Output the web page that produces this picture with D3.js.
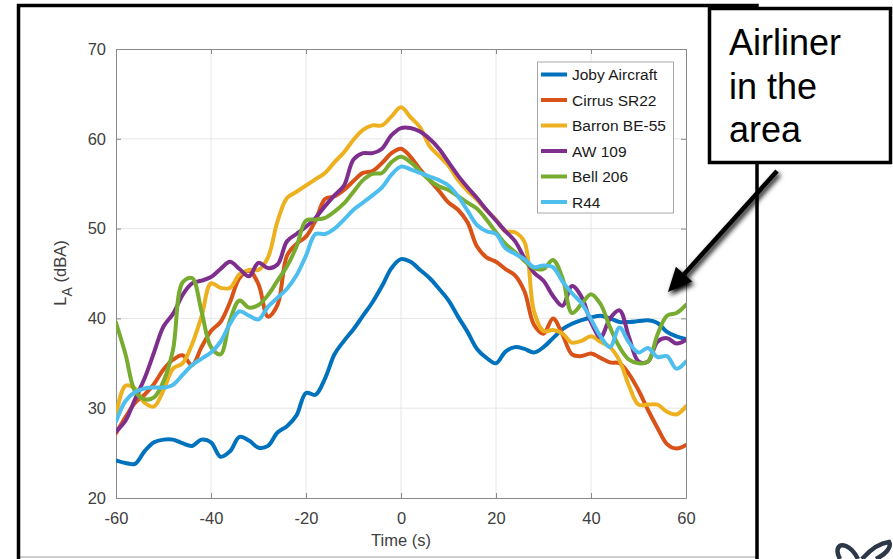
<!DOCTYPE html>
<html>
<head>
<meta charset="utf-8">
<script src="https://cdn.jsdelivr.net/npm/d3@7"></script>
<style>
  body { margin: 0; background: #fff; }
  svg { display: block; font-family: "Liberation Sans", Arial, sans-serif; }
</style>
</head>
<body>
<svg id="chart" width="893" height="559"></svg>
<script>
// time axis, one sample every 2 s
let times = d3.range(-60, 61, 2);

// levels (dBA)
let joby = [24.2,23.9,23.8,25.2,26.2,26.5,26.5,26.1,25.8,26.5,26.2,24.6,25.2,26.8,26.4,25.6,25.8,27.3,28.0,29.2,31.7,
  31.5,33.3,36.0,37.5,38.8,40.3,41.8,43.6,45.6,46.6,46.3,45.4,44.5,43.3,42.0,40.2,38.5,36.6,35.6,35.0,
  36.3,36.8,36.6,36.2,36.8,37.8,38.8,39.4,39.8,40.1,40.3,40.0,39.6,39.6,39.7,39.8,39.5,38.5,38.0,37.7];
let cirrus = [27.2,29.0,30.6,31.5,32.7,34.3,35.4,35.9,34.8,36.8,38.6,39.6,41.8,44.5,45.3,43.8,40.2,41.5,47.0,48.3,49.1,
  50.9,53.3,53.6,54.3,55.3,56.2,56.4,57.3,58.4,58.9,58.0,56.6,55.4,54.2,52.9,52.1,50.7,48.0,46.8,46.3,
  45.5,44.8,43.0,39.3,38.3,40.0,38.2,36.0,35.8,36.1,35.6,35.1,35.0,33.8,32.0,29.8,27.8,26.0,25.5,25.9];
let barron = [29.1,32.5,32.2,30.6,30.2,32.0,34.4,35.0,37.1,40.2,43.9,43.4,43.4,44.9,45.4,45.4,46.8,50.8,53.4,54.1,54.8,
  55.5,56.2,57.4,58.5,59.9,61.0,61.5,61.5,62.5,63.5,62.4,61.3,59.2,58.1,57.0,55.4,54.2,53.2,52.0,51.0,
  49.7,49.6,48.5,40.8,38.6,38.7,38.3,37.3,37.5,38.0,37.4,36.8,35.3,32.5,30.4,30.4,30.4,29.6,29.3,30.2];
let aw109 = [27.4,28.6,31.0,33.3,36.2,39.1,40.5,42.6,43.9,44.2,44.6,45.5,46.3,45.5,44.7,46.2,45.6,46.0,48.6,49.4,50.2,
  51.2,52.5,53.7,54.8,57.7,58.4,58.4,58.9,60.4,61.2,61.2,60.8,60.0,58.9,57.4,55.9,54.6,53.4,52.1,50.9,
  49.7,48.6,46.7,45.1,44.2,42.5,41.4,43.6,42.4,39.6,37.9,40.0,40.9,37.9,35.2,35.2,37.4,37.8,37.2,37.6];
let bell206 = [39.5,36.0,31.9,31.0,31.2,33.0,36.5,44.0,44.5,40.8,36.8,36.0,39.8,42.0,41.2,41.5,42.6,44.2,45.8,48.0,50.9,
  51.0,51.2,51.9,52.8,54.1,55.4,56.1,56.2,57.4,58.0,57.4,56.4,55.4,54.7,54.3,53.6,52.9,52.2,51.0,49.6,
  48.3,47.4,46.4,45.6,45.5,46.5,44.5,40.6,41.6,42.7,41.6,39.0,36.8,35.4,35.0,35.2,38.2,40.3,40.6,41.5];
let r44 = [28.5,30.8,31.8,32.2,32.3,32.3,32.6,33.7,34.8,35.5,36.2,37.4,39.4,40.8,40.3,39.9,41.3,42.3,43.3,44.8,47.0,
  49.4,49.4,50.0,51.0,52.1,52.9,53.7,54.6,56.0,56.9,56.6,56.2,55.8,55.4,54.8,53.6,52.0,50.4,49.7,49.4,
  47.8,47.2,46.6,45.7,45.9,45.7,44.1,42.8,41.7,39.9,38.0,36.8,39.0,37.3,36.2,36.7,35.7,35.8,34.4,35.2];

let names = ["Joby Aircraft", "Cirrus SR22", "Barron BE-55", "AW 109", "Bell 206", "R44"];
let colors = ["#0072BD", "#D95319", "#EDB120", "#7E2F8E", "#77AC30", "#4DBEEE"];
let series = [joby, cirrus, barron, aw109, bell206, r44];

let xTicks = [-60, -40, -20, 0, 20, 40, 60];
let yTicks = [20, 30, 40, 50, 60, 70];

let svg = d3.select("#chart");

// outer slide frame
svg.append("line").attr("x1", 757).attr("y1", 557).attr("x2", 18).attr("y2", 557)
  .attr("stroke", "#bdbdbd").attr("stroke-width", 1.5);
svg.append("path").attr("d", "M18.5,559 V5.5 H757 V559")
  .attr("fill", "none").attr("stroke", "#000").attr("stroke-width", 3.5);

// plot area
let pLeft = 116, pRight = 686, pTop = 49, pBottom = 498;
let x = d3.scaleLinear().domain([-60, 60]).range([pLeft, pRight]);
let y = d3.scaleLinear().domain([20, 70]).range([pBottom, pTop]);

// grid
let grid = svg.append("g").attr("stroke", "#e6e6e6").attr("stroke-width", 1);
grid.selectAll(".gx").data(xTicks.slice(1, -1)).enter().append("line")
  .attr("x1", d => x(d)).attr("x2", d => x(d)).attr("y1", pTop).attr("y2", pBottom);
grid.selectAll(".gy").data(yTicks.slice(1, -1)).enter().append("line")
  .attr("y1", d => y(d)).attr("y2", d => y(d)).attr("x1", pLeft).attr("x2", pRight);

// axes (MATLAB style box, ticks inward), plain hyphen minus like the original
let plain = d => String(d);
let axisCol = "#8a8a8a";
let xAx = svg.append("g").attr("transform", `translate(0,${pBottom})`)
  .call(d3.axisBottom(x).tickValues(xTicks).tickFormat(plain).tickSizeInner(-5).tickSizeOuter(0).tickPadding(14));
let xTop = svg.append("g").attr("transform", `translate(0,${pTop})`)
  .call(d3.axisTop(x).tickValues(xTicks).tickSizeInner(-5).tickSizeOuter(0).tickFormat(""));
let yAx = svg.append("g").attr("transform", `translate(${pLeft},0)`)
  .call(d3.axisLeft(y).tickValues(yTicks).tickFormat(plain).tickSizeInner(-5).tickSizeOuter(0).tickPadding(10));
let yRight = svg.append("g").attr("transform", `translate(${pRight},0)`)
  .call(d3.axisRight(y).tickValues(yTicks).tickSizeInner(-5).tickSizeOuter(0).tickFormat(""));
[xAx, xTop, yAx, yRight].forEach(g => {
  g.select(".domain").attr("stroke", axisCol);
  g.selectAll(".tick line").attr("stroke", axisCol);
  g.selectAll("text").attr("fill", "#404040").style("font-size", "16.5px")
    .style("font-family", "'Liberation Sans', Arial, sans-serif");
});

// axis titles
svg.append("text").attr("x", (pLeft + pRight) / 2).attr("y", 546).attr("text-anchor", "middle")
  .attr("fill", "#404040").style("font-size", "16.5px").text("Time (s)");
let yl = svg.append("text").attr("transform", "translate(66,273) rotate(-90)")
  .attr("text-anchor", "middle").attr("fill", "#404040").style("font-size", "16.5px");
yl.append("tspan").text("L");
yl.append("tspan").attr("dy", 6).style("font-size", "14px").text("A");
yl.append("tspan").attr("dy", -6).text(" (dBA)");

// lines
svg.append("clipPath").attr("id", "clip").append("rect")
  .attr("x", pLeft).attr("y", pTop).attr("width", pRight - pLeft).attr("height", pBottom - pTop);
let line = d3.line().x((d, i) => x(times[i])).y(d => y(d)).curve(d3.curveCatmullRom.alpha(0.5));
svg.append("g").attr("clip-path", "url(#clip)")
  .selectAll("path").data(series).enter().append("path")
  .attr("d", d => line(d))
  .attr("fill", "none")
  .attr("stroke", (d, i) => colors[i])
  .attr("stroke-width", 4)
  .attr("stroke-linejoin", "round")
  .attr("stroke-linecap", "round");

// legend
let lg = svg.append("g");
lg.append("rect").attr("x", 537.5).attr("y", 62).attr("width", 136).attr("height", 151)
  .attr("fill", "#fff").attr("stroke", "#a8a8a8").attr("stroke-width", 1);
let items = lg.selectAll(".item").data(names).enter().append("g")
  .attr("transform", (d, i) => `translate(0,${74.5 + i * 25.5})`);
items.append("line").attr("x1", 541).attr("x2", 567).attr("y1", 0).attr("y2", 0)
  .attr("stroke", (d, i) => colors[i]).attr("stroke-width", 4);
items.append("text").attr("x", 572).attr("y", 5.5).attr("fill", "#1a1a1a")
  .style("font-size", "15.5px").text(d => d);

// annotation
let shadow = svg.append("defs").append("filter").attr("id", "sh")
  .attr("x", "-50%").attr("y", "-50%").attr("width", "200%").attr("height", "200%");
shadow.append("feGaussianBlur").attr("in", "SourceAlpha").attr("stdDeviation", 2.5);
shadow.append("feOffset").attr("dx", 2).attr("dy", 3).attr("result", "b");
let mg = shadow.append("feMerge");
mg.append("feMergeNode").attr("in", "b");
mg.append("feMergeNode").attr("in", "SourceGraphic");

let tail = [777, 171], tip = [668, 292];
let ang = Math.atan2(tip[1] - tail[1], tip[0] - tail[0]);
let hl = 24, hw = 11;
let bx = tip[0] - hl * Math.cos(ang), by = tip[1] - hl * Math.sin(ang);
let arrow = svg.append("g").attr("filter", "url(#sh)");
arrow.append("line").attr("x1", tail[0]).attr("y1", tail[1]).attr("x2", bx).attr("y2", by)
  .attr("stroke", "#000").attr("stroke-width", 4.5);
arrow.append("path").attr("fill", "#000").attr("d",
  `M${tip[0]},${tip[1]} L${bx + hw * Math.sin(ang)},${by - hw * Math.cos(ang)} L${bx - hw * Math.sin(ang)},${by + hw * Math.cos(ang)} Z`);

svg.append("rect").attr("x", 709.5).attr("y", 8.5).attr("width", 181).attr("height", 154)
  .attr("fill", "#fff").attr("stroke", "#000").attr("stroke-width", 3.5);
let note = svg.append("text").attr("x", 729).attr("fill", "#000").style("font-size", "36px")
  .style("font-family", "'Liberation Sans', Arial, sans-serif");
["Airliner", "in the", "area"].forEach((t, i) => {
  note.append("tspan").attr("x", 729).attr("y", 55 + i * 43.5).text(t);
});

// corner logo fragment
svg.append("path").attr("d", "M840,559 C835,550 838,543 846,546 C853,549 856,555 858,559")
  .attr("fill", "none").attr("stroke", "#2c3848").attr("stroke-width", 4.5);
svg.append("path").attr("d", "M862,559 C870,550 880,543 889,542 C892,547 886,554 876,559")
  .attr("fill", "none").attr("stroke", "#2c3848").attr("stroke-width", 4.5);
</script>
</body>
</html>
